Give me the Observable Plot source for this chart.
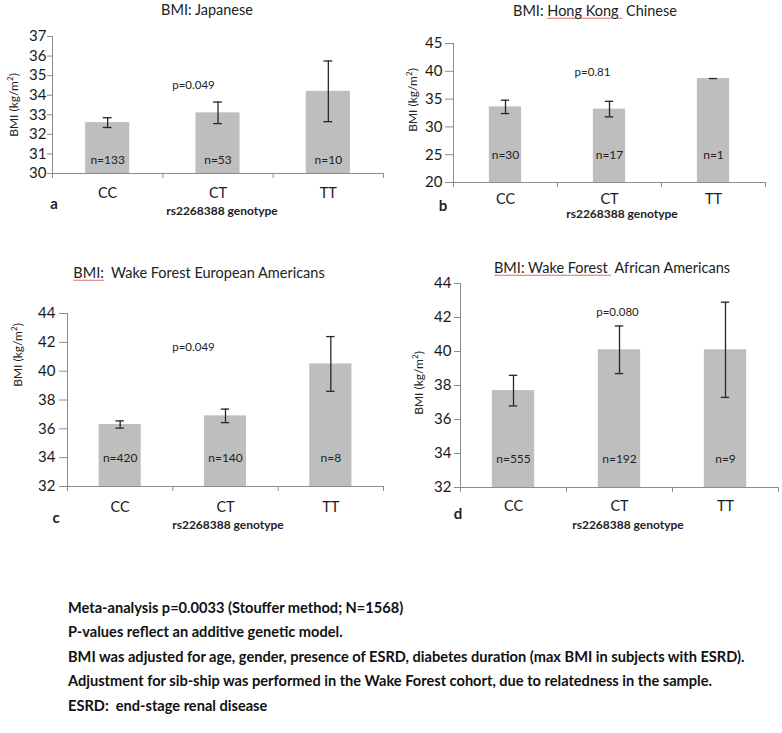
<!DOCTYPE html>
<html>
<head>
<meta charset="utf-8">
<script src="https://cdn.jsdelivr.net/npm/d3@7"></script>
<script src="https://cdn.jsdelivr.net/npm/@observablehq/plot@0.6"></script>
<style>
  html, body { margin: 0; padding: 0; background: #fff; }
  #root { position: relative; width: 782px; height: 733px; background: #fff; font-family: Lato, "Open Sans", sans-serif; color: #222; overflow: hidden; }
  .lbl { position: absolute; white-space: pre; transform: translate(-50%, -50%); line-height: 1; }
  .ylab { position: absolute; white-space: nowrap; transform: translate(-50%, -50%) rotate(-90deg); line-height: 1; font-size: 12px; }
  .foot { position: absolute; left: 68px; white-space: pre; transform: translateY(-50%); font-weight: bold; font-size: 14.6px; line-height: 1; color: #111; }
  .sq { text-decoration: underline; text-decoration-color: #e07070; text-decoration-thickness: 1px; text-underline-offset: 2px; }
  .plot { position: absolute; }
</style>
</head>
<body>
<div id="root"></div>
<script>
// ---- data ----
const genotypes = ["CC", "CT", "TT"];

const japaneseMean = [32.6, 33.1, 34.2];
const japaneseErr  = [0.25, 0.55, 1.55];
const japaneseN    = [133, 53, 10];
const japaneseTicks = [30, 31, 32, 33, 34, 35, 36, 37];

const hongKongMean = [33.6, 33.2, 38.7];
const hongKongErr  = [1.2, 1.4, 0];
const hongKongN    = [30, 17, 1];
const hongKongTicks = [20, 25, 30, 35, 40, 45];

const wfEuropeanMean = [36.3, 36.9, 40.5];
const wfEuropeanErr  = [0.25, 0.47, 1.9];
const wfEuropeanN    = [420, 140, 8];
const wfEuropeanTicks = [32, 34, 36, 38, 40, 42, 44];

const wfAfricanMean = [37.7, 40.1, 40.1];
const wfAfricanErr  = [0.9, 1.4, 2.8];
const wfAfricanN    = [555, 192, 9];
const wfAfricanTicks = [32, 34, 36, 38, 40, 42, 44];

const pValues = ["p=0.049", "p=0.81", "p=0.049", "p=0.080"];
const xLabel = "rs2268388 genotype";
const panelLetters = ["a", "b", "c", "d"];
const footnotes = [
  "Meta-analysis p=0.0033 (Stouffer method; N=1568)",
  "P-values reflect an additive genetic model.",
  "BMI was adjusted for age, gender, presence of ESRD, diabetes duration (max BMI in subjects with ESRD).",
  "Adjustment for sib-ship was performed in the Wake Forest cohort, due to relatedness in the sample.",
  "ESRD:  end-stage renal disease"
];

// ---- drawing ----
const root = document.getElementById("root");
const AXIS = "#8c8c8c";

function panel(o) {
  const data = genotypes.map((g, i) => ({g, i, mean: o.means[i], err: o.errs[i], n: o.ns[i]}));
  const y0 = o.ticks[0], y1 = o.ticks[o.ticks.length - 1];
  const half = o.barFrac / 2, cap = 0.04;
  const svg = Plot.plot({
    width: o.width, height: o.height,
    marginLeft: o.mL, marginRight: o.mR, marginTop: o.mT, marginBottom: o.mB,
    x: {domain: [0, 3], axis: null},
    y: {domain: [y0, y1], axis: null},
    style: {fontFamily: "Lato, 'Open Sans', sans-serif", background: "transparent", overflow: "visible"},
    marks: [
      Plot.rectY(data, {x1: d => d.i + 0.5 - half, x2: d => d.i + 0.5 + half, y1: y0, y2: "mean", fill: "#bebebe"}),
      Plot.ruleX(data.filter(d => d.err > 0), {x: d => d.i + 0.5, y1: d => d.mean - d.err, y2: d => d.mean + d.err, stroke: "#262626", strokeWidth: 1.3}),
      Plot.ruleY(data, {y: d => d.mean + d.err, x1: d => d.i + 0.5 - cap, x2: d => d.i + 0.5 + cap, stroke: "#262626", strokeWidth: 1.3}),
      Plot.ruleY(data.filter(d => d.err > 0), {y: d => d.mean - d.err, x1: d => d.i + 0.5 - cap, x2: d => d.i + 0.5 + cap, stroke: "#262626", strokeWidth: 1.3}),
      Plot.text(data, {x: d => d.i + 0.5, frameAnchor: "bottom", dy: -o.nDy, lineAnchor: "middle", text: d => `n=${d.n}`, fontSize: 12, fill: "#222"}),
      Plot.axisY({ticks: o.ticks, tickSize: o.tickSize, tickPadding: o.tickPad, tickFormat: d3.format("d"), fontSize: 15, stroke: AXIS, fill: "#1a1a1a", label: null}),
      Plot.ruleX([0], {stroke: AXIS}),
      Plot.ruleY([y0], {stroke: AXIS}),
      Plot.axisX({ticks: [0, 1, 2, 3], tickSize: 5, tickFormat: () => "", stroke: AXIS, label: null}),
      Plot.axisX({ticks: [0.5, 1.5, 2.5], tickSize: 0, tickPadding: o.xPad, tickFormat: d => genotypes[Math.floor(d)], fontSize: 14.5, fill: "#1a1a1a", label: null}),
      Plot.text([o.p], {frameAnchor: "top-left", dx: o.pDx, dy: o.pDy, textAnchor: "middle", lineAnchor: "middle", fontSize: 11.5, fill: "#222"})
    ]
  });
  svg.classList.add("plot");
  svg.style.left = o.left + "px";
  svg.style.top = o.top + "px";
  root.appendChild(svg);
}

panel({means: japaneseMean, errs: japaneseErr, ns: japaneseN, ticks: japaneseTicks, barFrac: 0.4,
  left: 0, top: 0, width: 390, height: 220, mL: 52, mR: 7, mT: 36, mB: 47,
  tickSize: 5, tickPad: 1, xPad: 14, nDy: 13, p: pValues[0], pDx: 141, pDy: 49});
panel({means: hongKongMean, errs: hongKongErr, ns: hongKongN, ticks: hongKongTicks, barFrac: 0.31,
  left: 390, top: 0, width: 392, height: 220, mL: 63, mR: 17, mT: 43, mB: 38,
  tickSize: 8, tickPad: 3, xPad: 11, nDy: 27, p: pValues[1], pDx: 139, pDy: 29});
panel({means: wfEuropeanMean, errs: wfEuropeanErr, ns: wfEuropeanN, ticks: wfEuropeanTicks, barFrac: 0.4,
  left: 0, top: 240, width: 390, height: 300, mL: 67, mR: 7, mT: 73, mB: 54,
  tickSize: 8, tickPad: 4, xPad: 15, nDy: 28, p: pValues[2], pDx: 126, pDy: 34});
panel({means: wfAfricanMean, errs: wfAfricanErr, ns: wfAfricanN, ticks: wfAfricanTicks, barFrac: 0.4,
  left: 390, top: 240, width: 392, height: 300, mL: 70, mR: 4, mT: 43, mB: 53,
  tickSize: 6, tickPad: 3, xPad: 13, nDy: 28, p: pValues[3], pDx: 157, pDy: 29});

function label(html, cx, cy, css) {
  const d = document.createElement("div");
  d.className = "lbl";
  d.innerHTML = html;
  d.style.left = cx + "px";
  d.style.top = cy + "px";
  Object.assign(d.style, css || {});
  root.appendChild(d);
}
function ylabel(cx, cy) {
  const d = document.createElement("div");
  d.className = "ylab";
  d.innerHTML = "BMI (kg/m<sup style='font-size:8px'>2</sup>)";
  d.style.left = cx + "px";
  d.style.top = cy + "px";
  root.appendChild(d);
}

// titles
const tt = {fontSize: "14.5px"};
label("BMI: Japanese", 207, 10, tt);
label("BMI: <span class='sq'>Hong Kong </span> Chinese", 595, 11, tt);
label("<span class='sq'>BMI:</span>  Wake Forest European Americans", 199, 273, tt);
label("<span class='sq'>BMI: Wake Forest </span> African Americans", 612, 268, tt);

// y labels
ylabel(13, 105); ylabel(412, 100); ylabel(17, 355); ylabel(418, 383);

// x labels
const xl = {fontSize: "12px", fontWeight: "bold"};
label(xLabel, 222, 211, xl); label(xLabel, 622, 214, xl);
label(xLabel, 228, 525, xl); label(xLabel, 628, 525, xl);

// letters
const lt = {fontSize: "15px", fontWeight: "bold"};
label(panelLetters[0], 54, 203, lt); label(panelLetters[1], 443, 205, lt);
label(panelLetters[2], 56, 517, lt); label(panelLetters[3], 458, 513, lt);

// footnotes
const footY = [608, 632, 657, 681, 706];
footnotes.forEach((t, i) => {
  const d = document.createElement("div");
  d.className = "foot";
  d.textContent = t;
  d.style.top = footY[i] + "px";
  root.appendChild(d);
});
</script>
</body>
</html>
